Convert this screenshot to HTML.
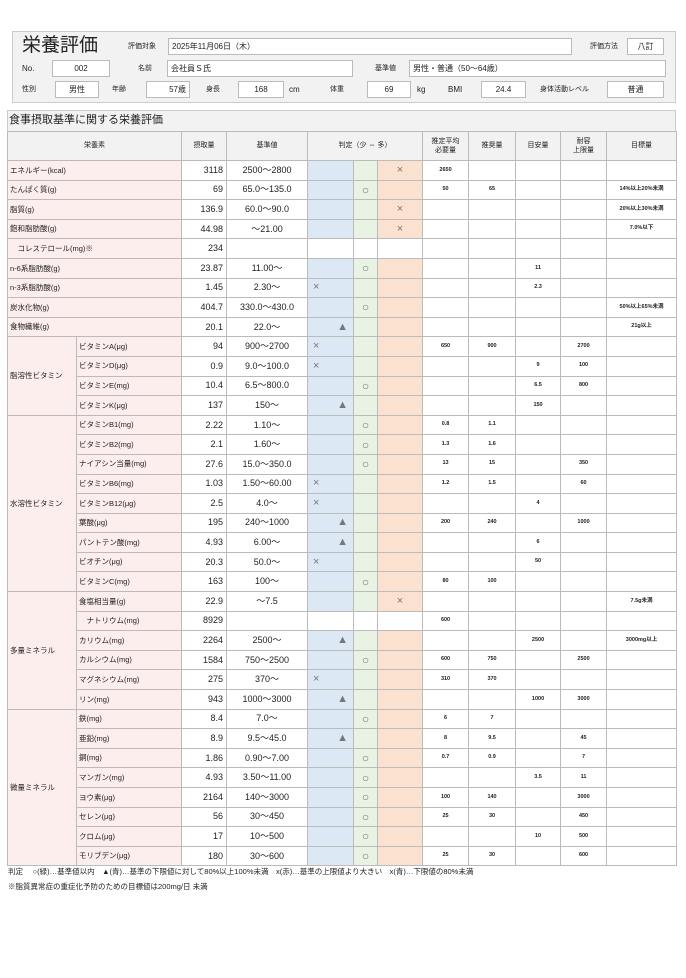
<!DOCTYPE html>
<html><head><meta charset="utf-8"><style>
body{margin:0;width:686px;height:978px;background:#fff;font-family:"Liberation Sans","Noto Sans CJK JP",sans-serif;color:#222;position:relative;overflow:hidden}
.a{position:absolute;font-size:8px;line-height:1}
.bx{position:absolute;background:#fff;border:1px solid #bbb;font-size:8px;box-sizing:border-box;display:flex;align-items:center}
table{position:absolute;left:7px;top:131px;border-collapse:collapse;table-layout:fixed;width:669px}
td{border:1px solid #bbb;height:18.6px;padding:0 2px;font-size:7.5px;white-space:nowrap;overflow:hidden;line-height:1}
th{border:1px solid #bbb;background:#f2f2f2;font-weight:normal;font-size:7px;height:28px;line-height:1.3;padding:0}
td.n{background:#fdeeee}
td.g{background:#fdeeee}
td.v{text-align:right;font-size:9px;padding-right:3px}
td.k{text-align:center;font-size:9px}
td.b{background:#dde8f5;color:#777;font-size:11px;padding:0 5px}
td.gr{background:#e8f3e4;color:#777;text-align:center;font-size:12px;padding:0}
td.o{background:#fbe1d0;color:#777;text-align:center;font-size:11px}
td.s{text-align:center;font-size:5.5px;font-weight:bold}
td.t{text-align:center;font-size:5.5px;font-weight:bold}
</style></head><body>
<div style="position:absolute;left:12px;top:31px;width:664px;height:72px;background:#f2f2f2;border:1px solid #ccc;box-sizing:border-box"></div>
<div class="a" style="left:22px;top:36px;font-size:19px">栄養評価</div>
<div class="a" style="left:128px;top:43px;font-size:7px">評価対象</div>
<div class="bx" style="left:168px;top:38px;width:404px;height:17px;padding-left:3px">2025年11月06日（木）</div>
<div class="a" style="left:590px;top:43px;font-size:7px">評価方法</div>
<div class="bx" style="left:627px;top:38px;width:37px;height:17px;justify-content:center">八訂</div>
<div class="a" style="left:22px;top:65px">No.</div>
<div class="bx" style="left:52px;top:60px;width:58px;height:17px;justify-content:center">002</div>
<div class="a" style="left:138px;top:65px;font-size:7px">名前</div>
<div class="bx" style="left:167px;top:60px;width:186px;height:17px;padding-left:3px">会社員Ｓ氏</div>
<div class="a" style="left:375px;top:65px;font-size:7px">基準値</div>
<div class="bx" style="left:409px;top:60px;width:257px;height:17px;padding-left:3px">男性・普通（50～64歳）</div>
<div class="a" style="left:22px;top:86px;font-size:7px">性別</div>
<div class="bx" style="left:55px;top:81px;width:44px;height:17px;justify-content:center">男性</div>
<div class="a" style="left:112px;top:86px;font-size:7px">年齢</div>
<div class="bx" style="left:146px;top:81px;width:44px;height:17px;justify-content:flex-end;padding-right:3px">57歳</div>
<div class="a" style="left:206px;top:86px;font-size:7px">身長</div>
<div class="bx" style="left:238px;top:81px;width:46px;height:17px;justify-content:center">168</div>
<div class="a" style="left:289px;top:86px">cm</div>
<div class="a" style="left:330px;top:86px;font-size:7px">体重</div>
<div class="bx" style="left:367px;top:81px;width:44px;height:17px;justify-content:center">69</div>
<div class="a" style="left:417px;top:86px">kg</div>
<div class="a" style="left:448px;top:86px">BMI</div>
<div class="bx" style="left:481px;top:81px;width:45px;height:17px;justify-content:center">24.4</div>
<div class="a" style="left:540px;top:86px;font-size:7px">身体活動レベル</div>
<div class="bx" style="left:607px;top:81px;width:57px;height:17px;justify-content:center">普通</div>

<div style="position:absolute;left:7px;top:110px;width:669px;height:22px;background:#f2f2f2;border:1px solid #ccc;box-sizing:border-box"></div>
<div class="a" style="left:9px;top:115px;font-size:11px">食事摂取基準に関する栄養評価</div>

<table>
<colgroup><col style="width:69px"><col style="width:105px"><col style="width:45px"><col style="width:81px"><col style="width:46px"><col style="width:24px"><col style="width:45px"><col style="width:46px"><col style="width:47px"><col style="width:45px"><col style="width:46px"><col style="width:70px"></colgroup>
<tr><th colspan="2">栄養素</th><th>摂取量</th><th>基準値</th><th colspan="3">判定（少 ⇔ 多）</th><th>推定平均<br>必要量</th><th>推奨量</th><th>目安量</th><th>耐容<br>上限量</th><th>目標量</th></tr>
<tr><td class="n" colspan="2">エネルギー(kcal)</td><td class="v">3118</td><td class="k">2500～2800</td><td class="b"></td><td class="gr"></td><td class="o">×</td><td class="s">2650</td><td class="s"></td><td class="s"></td><td class="s"></td><td class="t"></td></tr>
<tr><td class="n" colspan="2">たんぱく質(g)</td><td class="v">69</td><td class="k">65.0～135.0</td><td class="b"></td><td class="gr">○</td><td class="o"></td><td class="s">50</td><td class="s">65</td><td class="s"></td><td class="s"></td><td class="t">14%以上20%未満</td></tr>
<tr><td class="n" colspan="2">脂質(g)</td><td class="v">136.9</td><td class="k">60.0～90.0</td><td class="b"></td><td class="gr"></td><td class="o">×</td><td class="s"></td><td class="s"></td><td class="s"></td><td class="s"></td><td class="t">20%以上30%未満</td></tr>
<tr><td class="n" colspan="2">飽和脂肪酸(g)</td><td class="v">44.98</td><td class="k">～21.00</td><td class="b"></td><td class="gr"></td><td class="o">×</td><td class="s"></td><td class="s"></td><td class="s"></td><td class="s"></td><td class="t">7.0%以下</td></tr>
<tr><td class="n" colspan="2">　コレステロール(mg)※</td><td class="v">234</td><td class="k"></td><td></td><td></td><td></td><td></td><td></td><td></td><td></td><td></td></tr>
<tr><td class="n" colspan="2">n-6系脂肪酸(g)</td><td class="v">23.87</td><td class="k">11.00～</td><td class="b"></td><td class="gr">○</td><td class="o"></td><td class="s"></td><td class="s"></td><td class="s">11</td><td class="s"></td><td class="t"></td></tr>
<tr><td class="n" colspan="2">n-3系脂肪酸(g)</td><td class="v">1.45</td><td class="k">2.30～</td><td class="b">×</td><td class="gr"></td><td class="o"></td><td class="s"></td><td class="s"></td><td class="s">2.3</td><td class="s"></td><td class="t"></td></tr>
<tr><td class="n" colspan="2">炭水化物(g)</td><td class="v">404.7</td><td class="k">330.0～430.0</td><td class="b"></td><td class="gr">○</td><td class="o"></td><td class="s"></td><td class="s"></td><td class="s"></td><td class="s"></td><td class="t">50%以上65%未満</td></tr>
<tr><td class="n" colspan="2">食物繊維(g)</td><td class="v">20.1</td><td class="k">22.0～</td><td class="b" style="text-align:right">▲</td><td class="gr"></td><td class="o"></td><td class="s"></td><td class="s"></td><td class="s"></td><td class="s"></td><td class="t">21g以上</td></tr>

<tr><td class="g" rowspan="4">脂溶性ビタミン</td><td class="n">ビタミンA(μg)</td><td class="v">94</td><td class="k">900～2700</td><td class="b">×</td><td class="gr"></td><td class="o"></td><td class="s">650</td><td class="s">900</td><td class="s"></td><td class="s">2700</td><td class="t"></td></tr>
<tr><td class="n">ビタミンD(μg)</td><td class="v">0.9</td><td class="k">9.0～100.0</td><td class="b">×</td><td class="gr"></td><td class="o"></td><td class="s"></td><td class="s"></td><td class="s">9</td><td class="s">100</td><td class="t"></td></tr>
<tr><td class="n">ビタミンE(mg)</td><td class="v">10.4</td><td class="k">6.5～800.0</td><td class="b"></td><td class="gr">○</td><td class="o"></td><td class="s"></td><td class="s"></td><td class="s">6.5</td><td class="s">800</td><td class="t"></td></tr>
<tr><td class="n">ビタミンK(μg)</td><td class="v">137</td><td class="k">150～</td><td class="b" style="text-align:right">▲</td><td class="gr"></td><td class="o"></td><td class="s"></td><td class="s"></td><td class="s">150</td><td class="s"></td><td class="t"></td></tr>

<tr><td class="g" rowspan="9">水溶性ビタミン</td><td class="n">ビタミンB1(mg)</td><td class="v">2.22</td><td class="k">1.10～</td><td class="b"></td><td class="gr">○</td><td class="o"></td><td class="s">0.8</td><td class="s">1.1</td><td class="s"></td><td class="s"></td><td class="t"></td></tr>
<tr><td class="n">ビタミンB2(mg)</td><td class="v">2.1</td><td class="k">1.60～</td><td class="b"></td><td class="gr">○</td><td class="o"></td><td class="s">1.3</td><td class="s">1.6</td><td class="s"></td><td class="s"></td><td class="t"></td></tr>
<tr><td class="n">ナイアシン当量(mg)</td><td class="v">27.6</td><td class="k">15.0～350.0</td><td class="b"></td><td class="gr">○</td><td class="o"></td><td class="s">13</td><td class="s">15</td><td class="s"></td><td class="s">350</td><td class="t"></td></tr>
<tr><td class="n">ビタミンB6(mg)</td><td class="v">1.03</td><td class="k">1.50～60.00</td><td class="b">×</td><td class="gr"></td><td class="o"></td><td class="s">1.2</td><td class="s">1.5</td><td class="s"></td><td class="s">60</td><td class="t"></td></tr>
<tr><td class="n">ビタミンB12(μg)</td><td class="v">2.5</td><td class="k">4.0～</td><td class="b">×</td><td class="gr"></td><td class="o"></td><td class="s"></td><td class="s"></td><td class="s">4</td><td class="s"></td><td class="t"></td></tr>
<tr><td class="n">葉酸(μg)</td><td class="v">195</td><td class="k">240～1000</td><td class="b" style="text-align:right">▲</td><td class="gr"></td><td class="o"></td><td class="s">200</td><td class="s">240</td><td class="s"></td><td class="s">1000</td><td class="t"></td></tr>
<tr><td class="n">パントテン酸(mg)</td><td class="v">4.93</td><td class="k">6.00～</td><td class="b" style="text-align:right">▲</td><td class="gr"></td><td class="o"></td><td class="s"></td><td class="s"></td><td class="s">6</td><td class="s"></td><td class="t"></td></tr>
<tr><td class="n">ビオチン(μg)</td><td class="v">20.3</td><td class="k">50.0～</td><td class="b">×</td><td class="gr"></td><td class="o"></td><td class="s"></td><td class="s"></td><td class="s">50</td><td class="s"></td><td class="t"></td></tr>
<tr><td class="n">ビタミンC(mg)</td><td class="v">163</td><td class="k">100～</td><td class="b"></td><td class="gr">○</td><td class="o"></td><td class="s">80</td><td class="s">100</td><td class="s"></td><td class="s"></td><td class="t"></td></tr>

<tr><td class="g" rowspan="6">多量ミネラル</td><td class="n">食塩相当量(g)</td><td class="v">22.9</td><td class="k">～7.5</td><td class="b"></td><td class="gr"></td><td class="o">×</td><td class="s"></td><td class="s"></td><td class="s"></td><td class="s"></td><td class="t">7.5g未満</td></tr>
<tr><td class="n">　ナトリウム(mg)</td><td class="v">8929</td><td class="k"></td><td></td><td></td><td></td><td class="s">600</td><td class="s"></td><td class="s"></td><td class="s"></td><td class="t"></td></tr>
<tr><td class="n">カリウム(mg)</td><td class="v">2264</td><td class="k">2500～</td><td class="b" style="text-align:right">▲</td><td class="gr"></td><td class="o"></td><td class="s"></td><td class="s"></td><td class="s">2500</td><td class="s"></td><td class="t">3000mg以上</td></tr>
<tr><td class="n">カルシウム(mg)</td><td class="v">1584</td><td class="k">750～2500</td><td class="b"></td><td class="gr">○</td><td class="o"></td><td class="s">600</td><td class="s">750</td><td class="s"></td><td class="s">2500</td><td class="t"></td></tr>
<tr><td class="n">マグネシウム(mg)</td><td class="v">275</td><td class="k">370～</td><td class="b">×</td><td class="gr"></td><td class="o"></td><td class="s">310</td><td class="s">370</td><td class="s"></td><td class="s"></td><td class="t"></td></tr>
<tr><td class="n">リン(mg)</td><td class="v">943</td><td class="k">1000～3000</td><td class="b" style="text-align:right">▲</td><td class="gr"></td><td class="o"></td><td class="s"></td><td class="s"></td><td class="s">1000</td><td class="s">3000</td><td class="t"></td></tr>

<tr><td class="g" rowspan="8">微量ミネラル</td><td class="n">鉄(mg)</td><td class="v">8.4</td><td class="k">7.0～</td><td class="b"></td><td class="gr">○</td><td class="o"></td><td class="s">6</td><td class="s">7</td><td class="s"></td><td class="s"></td><td class="t"></td></tr>
<tr><td class="n">亜鉛(mg)</td><td class="v">8.9</td><td class="k">9.5～45.0</td><td class="b" style="text-align:right">▲</td><td class="gr"></td><td class="o"></td><td class="s">8</td><td class="s">9.5</td><td class="s"></td><td class="s">45</td><td class="t"></td></tr>
<tr><td class="n">銅(mg)</td><td class="v">1.86</td><td class="k">0.90～7.00</td><td class="b"></td><td class="gr">○</td><td class="o"></td><td class="s">0.7</td><td class="s">0.9</td><td class="s"></td><td class="s">7</td><td class="t"></td></tr>
<tr><td class="n">マンガン(mg)</td><td class="v">4.93</td><td class="k">3.50～11.00</td><td class="b"></td><td class="gr">○</td><td class="o"></td><td class="s"></td><td class="s"></td><td class="s">3.5</td><td class="s">11</td><td class="t"></td></tr>
<tr><td class="n">ヨウ素(μg)</td><td class="v">2164</td><td class="k">140～3000</td><td class="b"></td><td class="gr">○</td><td class="o"></td><td class="s">100</td><td class="s">140</td><td class="s"></td><td class="s">3000</td><td class="t"></td></tr>
<tr><td class="n">セレン(μg)</td><td class="v">56</td><td class="k">30～450</td><td class="b"></td><td class="gr">○</td><td class="o"></td><td class="s">25</td><td class="s">30</td><td class="s"></td><td class="s">450</td><td class="t"></td></tr>
<tr><td class="n">クロム(μg)</td><td class="v">17</td><td class="k">10～500</td><td class="b"></td><td class="gr">○</td><td class="o"></td><td class="s"></td><td class="s"></td><td class="s">10</td><td class="s">500</td><td class="t"></td></tr>
<tr><td class="n">モリブデン(μg)</td><td class="v">180</td><td class="k">30～600</td><td class="b"></td><td class="gr">○</td><td class="o"></td><td class="s">25</td><td class="s">30</td><td class="s"></td><td class="s">600</td><td class="t"></td></tr>
</table>

<div class="a" style="left:8px;top:868px;font-size:7.5px;white-space:nowrap">判定　 ○(緑)…基準値以内　▲(青)…基準の下限値に対して80%以上100%未満　x(赤)…基準の上限値より大きい　x(青)…下限値の80%未満</div>
<div class="a" style="left:8px;top:883px;font-size:7.5px">※脂質異常症の重症化予防のための目標値は200mg/日 未満</div>
</body></html>
